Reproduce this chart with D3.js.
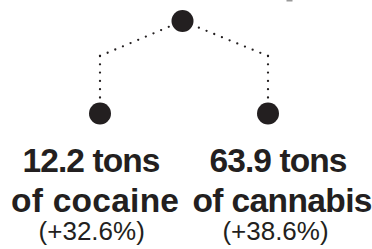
<!DOCTYPE html>
<html>
<head>
<meta charset="utf-8">
<script src="https://cdn.jsdelivr.net/npm/d3@7"></script>
<style>
  body { margin: 0; background: #fff; }
  text { font-family: "Liberation Sans", Arial, Helvetica, sans-serif; fill: #231f20; }
</style>
</head>
<body>
<div id="container"></div>
<script>
/* DATA */
const drugs = ["cocaine", "cannabis"];
const amounts = ["12.2 tons", "63.9 tons"];
const changes = ["(+32.6%)", "(+38.6%)"];

/* CONSTANTS */
const width = 372,
  height = 249,
  ink = "#231f20";

// node positions
const xScale = d3.scalePoint()
  .domain(drugs)
  .range([100, 268]);

const rootX = 182.5,
  rootY = 21,
  elbowY = 56,
  leafY = 113.5,
  r = 11;

// label lines: baseline, size, weight, centre of each column, fitted widths
const lines = [
  {y: 172, size: 33.5, weight: "bold", cx: [91.5, 278.5], w: [138, 138], text: (d, i) => amounts[i]},
  {y: 212, size: 33.5, weight: "bold", cx: [95, 282.5], w: [168, 180], text: d => "of " + d},
  {y: 240, size: 26, weight: "normal", cx: [91.7, 275.5], w: null, text: (d, i) => changes[i]}
];

const svg = d3.select("#container")
  .append("svg")
  .attr("width", width)
  .attr("height", height);

// little grey fragment cut off at the top edge
svg.append("rect")
  .attr("x", 286.5).attr("y", 0)
  .attr("width", 6).attr("height", 1.5)
  .attr("fill", "#9a9a9a");

// dotted links, drawn from the elbow so a dot sits at the corner
const links = svg.append("g")
  .attr("fill", "none")
  .attr("stroke", ink)
  .attr("stroke-width", 2.3)
  .attr("stroke-linecap", "round")
  .attr("stroke-dasharray", "0 8.3");

drugs.forEach(d => {
  const x = xScale(d);
  links.append("path").attr("d", d3.line()([[x, elbowY], [rootX, rootY]]));
  links.append("path").attr("d", d3.line()([[x, elbowY], [x, leafY]]));
});

// nodes
svg.append("circle")
  .attr("cx", rootX).attr("cy", rootY).attr("r", r)
  .attr("fill", ink);

svg.selectAll("circle.leaf")
  .data(drugs)
  .join("circle")
  .attr("class", "leaf")
  .attr("cx", d => xScale(d))
  .attr("cy", leafY)
  .attr("r", r)
  .attr("fill", ink);

// labels
lines.forEach(l => {
  const t = svg.append("g")
    .selectAll("text")
    .data(drugs)
    .join("text")
    .attr("x", (d, i) => l.cx[i])
    .attr("y", l.y)
    .attr("text-anchor", "middle")
    .attr("font-size", l.size)
    .attr("font-weight", l.weight)
    .text(l.text);
  if (l.w) {
    t.attr("textLength", (d, i) => l.w[i])
      .attr("lengthAdjust", "spacing");
  }
});
</script>
</body>
</html>
